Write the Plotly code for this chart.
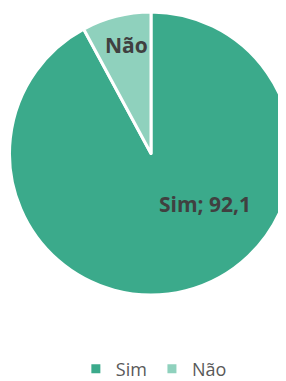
import plotly.graph_objects as go

labels = ["Sim", "Não"]
values = [92.1, 7.9]
colors = ["#3BAA8B", "#8FD1BD"]

W, H = 286, 381
fig = go.Figure(go.Pie(
    labels=labels, values=values, sort=False, direction="clockwise", rotation=0,
    marker=dict(colors=colors, line=dict(color="white", width=3)),
    textinfo="none", hoverinfo="label+value",
    domain=dict(x=[0, 1], y=[0, 1]),
))

def fmt(v):
    return f"{v:.1f}".replace(".", ",")

font_lbl = dict(family="Open Sans, Segoe UI, sans-serif", size=21, color="#404040")
fig.add_annotation(x=0.689, y=0.322, xref="paper", yref="paper",
                   xanchor="center", yanchor="middle",
                   text=f"<b>{labels[0]}; {fmt(values[0])}</b>", showarrow=False,
                   font=font_lbl)
fig.add_annotation(x=0.413, y=0.883, xref="paper", yref="paper",
                   xanchor="center", yanchor="middle",
                   text=f"<b>{labels[1]}</b>", showarrow=False,
                   font=font_lbl)

fig.update_layout(
    width=W, height=H,
    margin=dict(l=0, r=0, t=4, b=94),
    paper_bgcolor="white", plot_bgcolor="white",
    showlegend=True,
    legend=dict(orientation="h", x=0.51, xanchor="center", y=-0.2615, yanchor="middle",
                font=dict(family="Open Sans, Segoe UI, sans-serif", size=18, color="#595959"),
                itemwidth=30, traceorder="normal"),
)
fig.write_html("out.html")
